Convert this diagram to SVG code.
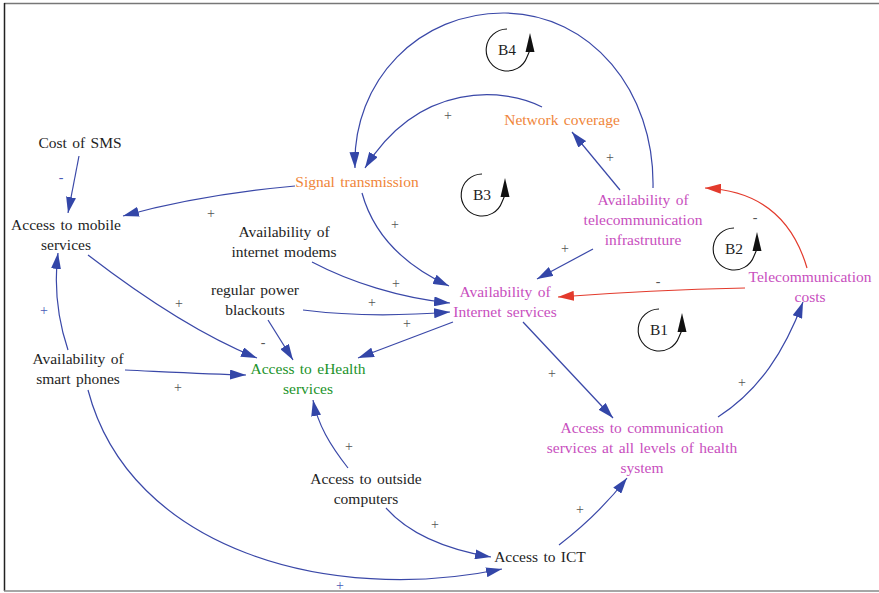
<svg xmlns="http://www.w3.org/2000/svg" width="879" height="593" viewBox="0 0 879 593" font-family="'Liberation Serif', 'DejaVu Serif', 'Times New Roman', serif">
  <style>
    text { font-family: 'Liberation Serif', 'DejaVu Serif', 'Times New Roman', serif; font-size: 15.5px; word-spacing: 1.5px; text-anchor: middle; }
    .k { fill: #1e1e1e; }
    .o { fill: #f0863a; }
    .m { fill: #c84fbe; }
    .g { fill: #21932a; }
    .e { fill: none; stroke: #3a48a8; stroke-width: 1.2; marker-end: url(#ab); }
    .r { fill: none; stroke: #e33a2c; stroke-width: 1.2; marker-end: url(#ar); }
    .p { fill: #555; font-size: 14px; }
    .pb { fill: #4a5ab8; font-size: 14px; }
    .loop { fill: none; stroke: #111; stroke-width: 1.1; }
  </style>
  <defs>
    <marker id="ab" viewBox="0 0 16 10" refX="16" refY="5" markerWidth="16" markerHeight="10" markerUnits="userSpaceOnUse" orient="auto">
      <path d="M0,0 L16,5 L0,10 Z" fill="#3346a8"/>
    </marker>
    <marker id="ar" viewBox="0 0 16 10" refX="16" refY="5" markerWidth="16" markerHeight="10" markerUnits="userSpaceOnUse" orient="auto">
      <path d="M0,0 L16,5 L0,10 Z" fill="#e33a2c"/>
    </marker>
  </defs>

  <rect width="879" height="593" fill="#fff"/>
  <!-- frame -->
  <line x1="4" y1="3.5" x2="879" y2="3.5" stroke="#777" stroke-width="1.5"/>
  <line x1="4.5" y1="3" x2="4.5" y2="591" stroke="#222" stroke-width="1.5"/>
  <line x1="4" y1="591" x2="879" y2="591" stroke="#888" stroke-width="1.5"/>

  <g id="connectors">
    <!-- Cost of SMS -> Access to mobile services -->
    <path class="e" d="M79,156 L68,213"/>
    <text class="pb" x="61" y="182">-</text>
    <!-- Signal transmission -> Access to mobile services -->
    <path class="e" d="M295,186 C230,192 170,203 123,216"/>
    <text class="p" x="211" y="218">+</text>
    <!-- Signal transmission -> Availability of Internet services -->
    <path class="e" d="M362,193 C375,240 410,268 449,286"/>
    <text class="p" x="395" y="229">+</text>
    <!-- internet modems -> Internet services -->
    <path class="e" d="M312,262 C350,282 400,298 450,303"/>
    <text class="p" x="396" y="288">+</text>
    <!-- power blackouts -> Internet services -->
    <path class="e" d="M303,310 C350,316 400,316 450,312"/>
    <text class="p" x="372" y="307">+</text>
    <!-- Internet services -> eHealth -->
    <path class="e" d="M453,322 L358,358"/>
    <text class="p" x="407" y="328">+</text>
    <!-- telecom infrastructure -> Internet services -->
    <path class="e" d="M593,249 L537,279"/>
    <text class="p" x="565" y="253">+</text>
    <!-- Telecommunication costs -> Internet services -->
    <path class="r" d="M745,288 Q650,290 558,297"/>
    <text class="p" x="658" y="286">-</text>
    <!-- Telecommunication costs -> telecom infrastructure -->
    <path class="r" d="M807,268 C790,210 750,190 705,188"/>
    <text class="p" x="755" y="222">-</text>
    <!-- telecom infrastructure -> Network coverage -->
    <path class="e" d="M620,190 L572,132"/>
    <text class="p" x="610" y="162">+</text>
    <!-- Network coverage -> Signal transmission -->
    <path class="e" d="M542,107 C505,88 420,80 365,168"/>
    <text class="p" x="448" y="120">+</text>
    <!-- telecom infrastructure -> Signal transmission (outer loop) -->
    <path class="e" d="M653,188 C655,90 590,14 505,13 C420,12 352,80 355,168"/>
    <!-- Access to mobile services -> eHealth -->
    <path class="e" d="M88,255 C140,295 200,335 257,358"/>
    <text class="p" x="179" y="308">+</text>
    <!-- smart phones -> Access to mobile services -->
    <path class="e" d="M68,350 C58,320 54,285 58,253"/>
    <text class="pb" x="44" y="315">+</text>
    <!-- smart phones -> eHealth -->
    <path class="e" d="M125,370 C170,372 210,374 246,375"/>
    <text class="p" x="178" y="392">+</text>
    <!-- power blackouts -> eHealth -->
    <path class="e" d="M268,320 L293,360"/>
    <text class="p" x="263" y="347">-</text>
    <!-- outside computers -> eHealth -->
    <path class="e" d="M348,468 C330,445 318,425 313,400"/>
    <text class="p" x="349" y="451">+</text>
    <!-- outside computers -> Access to ICT -->
    <path class="e" d="M386,508 C410,535 450,550 491,557"/>
    <text class="p" x="435" y="529">+</text>
    <!-- smart phones -> Access to ICT -->
    <path class="e" d="M88,390 C130,550 330,605 502,569"/>
    <text class="pb" x="340" y="590">+</text>
    <!-- Access to ICT -> communication services -->
    <path class="e" d="M559,545 C585,525 610,500 627,478"/>
    <text class="p" x="580" y="514">+</text>
    <!-- Internet services -> communication services -->
    <path class="e" d="M523,322 L613,418"/>
    <text class="p" x="552" y="378">+</text>
    <!-- communication services -> Telecommunication costs -->
    <path class="e" d="M718,417 C760,390 785,350 803,302"/>
    <text class="p" x="742" y="387">+</text>
  </g>

  <g id="loops">
    <g id="loop-B4">
      <path class="loop" d="M507,29 A21,21 0 1 0 527,57 L530,50"/>
      <polygon points="530,33 525.5,52 534.5,52" fill="#111"/>
      <text class="k" x="507" y="55">B4</text>
    </g>
    <g id="loop-B3">
      <path class="loop" d="M482,174 A21,21 0 1 0 502,202 L505,195"/>
      <polygon points="505,178 500.5,197 509.5,197" fill="#111"/>
      <text class="k" x="482" y="200">B3</text>
    </g>
    <g id="loop-B2">
      <path class="loop" d="M734,228 A21,21 0 1 0 754,256 L757,249"/>
      <polygon points="757,232 752.5,251 761.5,251" fill="#111"/>
      <text class="k" x="734" y="254">B2</text>
    </g>
    <g id="loop-B1">
      <path class="loop" d="M659,309 A21,21 0 1 0 679,337 L682,330"/>
      <polygon points="682,313 677.5,332 686.5,332" fill="#111"/>
      <text class="k" x="659" y="335">B1</text>
    </g>
  </g>

  <g id="cost-of-sms"><text class="k" x="80" y="148">Cost of SMS</text></g>
  <g id="access-mobile"><text class="k" x="66" y="230">Access to mobile</text><text class="k" x="66" y="250">services</text></g>
  <g id="signal-transmission"><text class="o" x="357" y="187">Signal transmission</text></g>
  <g id="internet-modems"><text class="k" x="284" y="237">Availability of</text><text class="k" x="284" y="257">internet modems</text></g>
  <g id="power-blackouts"><text class="k" x="255" y="295">regular power</text><text class="k" x="255" y="315">blackouts</text></g>
  <g id="smart-phones"><text class="k" x="78" y="364">Availability of</text><text class="k" x="78" y="384">smart phones</text></g>
  <g id="ehealth"><text class="g" x="308" y="374">Access to eHealth</text><text class="g" x="308" y="394">services</text></g>
  <g id="outside-computers"><text class="k" x="366" y="484">Access to outside</text><text class="k" x="366" y="504">computers</text></g>
  <g id="access-ict"><text class="k" x="540" y="562">Access to ICT</text></g>
  <g id="communication-services"><text class="m" x="642" y="433">Access to communication</text><text class="m" x="642" y="453">services at all levels of health</text><text class="m" x="642" y="473">system</text></g>
  <g id="internet-services"><text class="m" x="505" y="297">Availability of</text><text class="m" x="505" y="317">Internet services</text></g>
  <g id="telecom-costs"><text class="m" x="810" y="282">Telecommunication</text><text class="m" x="810" y="302">costs</text></g>
  <g id="telecom-infrastructure"><text class="m" x="643" y="205">Availability of</text><text class="m" x="643" y="225">telecommunication</text><text class="m" x="643" y="245">infrastruture</text></g>
  <g id="network-coverage"><text class="o" x="562" y="125">Network coverage</text></g>
</svg>
